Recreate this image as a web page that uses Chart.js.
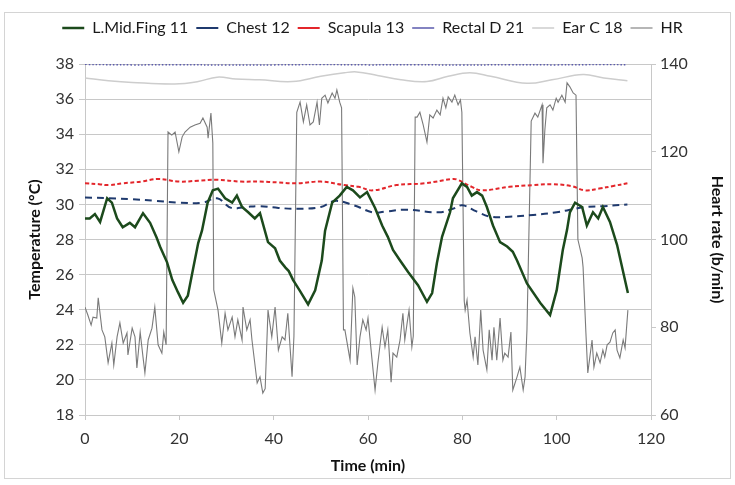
<!DOCTYPE html>
<html>
<head>
<meta charset="utf-8">
<script src="https://cdn.jsdelivr.net/npm/chart.js@4.4.1/dist/chart.umd.min.js"></script>
<style>
  html, body { margin: 0; padding: 0; background: #fff; }
  #wrap { width: 735px; height: 485px; }
</style>
</head>
<body>
<div id="wrap"><canvas id="myChart" width="735" height="485"></canvas></div>
<script>
// time (min) / value pairs
const finT = [0, 1, 2.1, 3.2, 4.7, 5.7, 6.8, 8, 9.5, 10.6, 12.3, 13.8, 15.2, 15.9, 17.4, 18.5, 19.7, 20.8, 21.8, 22.9, 24, 24.8, 26, 27.1, 28.2, 29.7, 31.2, 32.2, 33.3, 34.6, 36, 37.1, 38.8, 40.3, 41.3, 42.5, 43.2, 44.1, 45.5, 47.3, 48.8, 50.2, 50.9, 52.4, 54, 55.5, 56.8, 58.3, 59.8, 61.5, 63, 64.2, 65.3, 66.8, 68.5, 70.6, 72.5, 73.6, 74.6, 75.7, 77.4, 78, 79.9, 81, 82, 83.1, 84.2, 85.2, 86.5, 88, 89.5, 90.7, 91.6, 93.7, 96.5, 98.6, 100, 101.3, 102.2, 102.8, 103.9, 105.4, 106.4, 107.7, 108.8, 109.8, 111.3, 112.8, 115.1];
const finV = [29.2, 29.2, 29.45, 29.0, 30.35, 30.1, 29.2, 28.7, 28.95, 28.7, 29.5, 28.95, 28.1, 27.6, 26.7, 25.7, 25.0, 24.4, 24.8, 26.3, 27.8, 28.5, 30.1, 30.8, 30.9, 30.35, 30.1, 30.5, 29.85, 29.55, 29.2, 29.5, 27.85, 27.5, 26.8, 26.4, 26.2, 25.7, 25.1, 24.3, 25.1, 26.8, 28.5, 30.1, 30.5, 31.0, 30.8, 30.4, 30.7, 29.8, 28.8, 28.15, 27.4, 26.8, 26.15, 25.4, 24.45, 24.95, 26.65, 28.15, 29.55, 30.35, 31.2, 31.0, 30.5, 30.7, 30.5, 29.85, 28.8, 27.85, 27.6, 27.3, 26.8, 25.5, 24.4, 23.7, 25.1, 27.4, 28.55, 29.55, 30.1, 29.85, 28.8, 29.55, 29.2, 29.85, 29.0, 27.7, 24.95];

const chestT = [0, 5, 10, 15, 20, 25, 28, 31, 34, 37, 41, 45, 50, 53, 57, 61, 64, 68, 75, 78, 80, 83, 86, 90, 95, 100, 106, 110, 115];
const chestV = [30.4, 30.35, 30.3, 30.2, 30.1, 30.1, 30.35, 29.8, 29.85, 29.9, 29.8, 29.75, 29.85, 30.2, 29.95, 29.55, 29.6, 29.7, 29.55, 29.75, 29.95, 29.6, 29.3, 29.3, 29.4, 29.55, 29.85, 29.9, 30.0];

const scapT = [0, 3, 5, 8, 12, 15.5, 20, 24, 28, 33, 37, 41, 45, 50, 55, 58, 61, 66, 72, 78, 79, 82, 84, 90, 95, 99, 103, 106, 109, 112, 115];
const scapV = [31.2, 31.15, 31.1, 31.2, 31.3, 31.45, 31.3, 31.35, 31.4, 31.3, 31.3, 31.25, 31.2, 31.3, 31.1, 31.0, 30.8, 31.1, 31.2, 31.45, 31.4, 31.0, 30.8, 31.0, 31.1, 31.15, 31.05, 30.8, 30.9, 31.05, 31.2];

const rectT = [0, 10, 20, 30, 40, 50, 60, 70, 80, 90, 100, 110, 115];
const rectV = [37.98, 37.95, 37.96, 37.94, 37.95, 37.97, 37.95, 37.96, 37.94, 37.96, 37.95, 37.97, 37.96];

const earT = [0, 5, 10, 19, 24, 28, 32, 37, 44, 50, 55, 57.6, 62, 67, 72.5, 77, 81.6, 86, 93.7, 99, 105.6, 110, 115];
const earV = [37.2, 37.05, 36.95, 36.86, 37.0, 37.25, 37.15, 37.1, 37.0, 37.3, 37.5, 37.55, 37.35, 37.1, 37.0, 37.3, 37.5, 37.3, 36.9, 37.1, 37.4, 37.2, 37.05];

const hrT = [0, 0.6, 1.3, 1.7, 2.5, 2.8, 3.6, 4.2, 4.9, 5.7, 6.1, 6.8, 7.4, 8.1, 8.9, 9.1, 10, 10.6, 11, 11.7, 12.3, 12.7, 13.4, 14.2, 14.8, 15.5, 16.3, 16.7, 17.2,
  17.6, 18.4, 19.1, 19.9, 20.6, 21.2, 22.3, 23.3, 24.4, 25, 25.9, 26.1, 26.7, 27.1,
  27.3, 28.2, 29, 29.7, 30.3, 31.2, 31.8, 32.4, 33.3, 33.5, 34.3, 35, 35.4, 36.5, 37.1, 37.7, 38.2, 38.8, 39.6, 40.3, 41, 41.8, 42.4, 43, 43.9, 44.3,
  44.9, 45.6, 46.3, 47, 47.7, 48.4, 49.2, 49.7, 50.2, 50.9, 51.5, 52.4, 53, 53.4, 54, 54.4,
  54.8, 55.1, 56.2, 56.8, 57.2, 57.7, 58.3, 58.9, 59.6, 60, 60.8, 61.5, 62.1, 63, 63.6, 64.2, 64.9, 65.3, 66.1, 66.8, 67.4, 67.8, 68.3, 68.7, 69.3, 69.6,
  70.0, 70.4, 71, 71.7, 72.5, 73.1, 73.8, 74.6, 75.3, 75.9, 76.5, 77, 77.8, 78.4, 79.1, 79.6, 79.9,
  80.4, 80.6, 81, 81.6, 82.3, 82.7, 83.3, 83.9, 84.4, 85.2, 85.7, 86.3, 86.7, 87.3, 88, 88.6, 89, 89.7, 90.3, 90.7, 91.6, 92.2, 92.9, 93.3, 93.7,
  94.6, 95.4, 96, 96.9, 97.1, 97.5, 97.9, 98.6, 99.2, 99.9, 100.3, 101.1, 101.8, 102.2, 102.8, 103.5, 104.1,
  104.5, 105.4, 105.6, 106.2, 106.6, 107.5, 107.9, 108.5, 109.2, 109.8, 110.2, 110.7, 111.3, 111.9, 112.4, 112.8, 113.4, 114.1, 114.5, 115.1];
const hrV = [84.6, 82.8, 80.5, 82.3, 82.1, 86.7, 79.4, 77.8, 71.9, 76.4, 71.4, 77.8, 81, 76.4, 78.7, 73.7, 79.8, 77.8, 70.7, 78.9, 73.2, 69.6, 77.1, 79.8, 84.6, 76, 74.1, 78.9, 76,
  124.5, 123.8, 124.5, 120, 123.4, 124.5, 125.6, 126.1, 126.5, 127.7, 125.6, 123.1, 128.8, 122,
  88.5, 83.9, 76.4, 83.2, 79.4, 82.3, 77.8, 81.7, 77.1, 84.6, 79.4, 81.7, 77.1, 67.3, 68.7, 65, 66, 83.9, 77.8, 84.6, 74.8, 77.8, 77.1, 83.2, 68.7, 78,
  129, 131.3, 126.8, 130.7, 126.1, 126.8, 131.3, 126.1, 132.2, 132.9, 131.1, 133.4, 132.2, 134.1, 131.3, 130,
  79.4, 79.4, 72.5, 88.9, 86.9, 71.4, 77.8, 81.7, 79.4, 82.1, 73.2, 65.7, 71.9, 80, 75.5, 79.4, 67.5, 74.1, 73.2, 77.1, 83.2, 77.1, 81, 83.9, 75.5, 78,
  127.9, 127.9, 129, 126.1, 122.2, 128.4, 127.7, 129.5, 128.4, 132.2, 130, 132.5, 131.3, 132.9, 130.7, 131.8, 129,
  86, 83.9, 86.2, 78.7, 73.2, 77.8, 71.4, 83.9, 74.8, 70.3, 79.4, 72.5, 80, 72.5, 82.1, 72.5, 74.1, 73.2, 78.9, 65.7, 68.7, 70.9, 65.7, 68.7, 79.4,
  127, 128.8, 127.9, 130.7, 117.4, 125, 130, 130.7, 129.5, 132.2, 131.3, 132.9, 131.3, 135.7, 134.8, 133.4, 132.9,
  100, 95.8, 93.7, 78.7, 69.6, 77.1, 70.9, 74.1, 71.9, 74.8, 73.2, 76, 76.6, 78.7, 79.4, 74.8, 73, 77.1, 75.3, 83.9];

const tempTicks = [18, 20, 22, 24, 26, 28, 30, 32, 34, 36, 38];
const hrTicks = [60, 80, 100, 120, 140];

const pts = (t, v) => t.map((x, i) => ({x: x, y: v[i]}));
const FONT = 'Lato, "Open Sans", sans-serif';

const frame = {
  id: 'frame',
  beforeInit(chart) {
    const fit = chart.legend.fit;
    chart.legend.fit = function() { fit.call(this); this.height = 52; };
  },
  beforeDraw(chart) {
    const c = chart.ctx;
    c.save();
    c.fillStyle = '#fff';
    c.fillRect(0, 0, chart.width, chart.height);
    c.strokeStyle = '#d4d4d4';
    c.lineWidth = 1;
    c.strokeRect(4.5, 12.5, 726, 466);
    c.restore();
  }
};

const ctx = document.getElementById('myChart').getContext('2d');
new Chart(ctx, {
  type: 'line',
  data: {
    datasets: [
      { label: 'L.Mid.Fing 11', data: pts(finT, finV), borderColor: '#1c4a1c', backgroundColor: '#1c4a1c', borderWidth: 2.5, yAxisID: 'y' },
      { label: 'Chest 12', data: pts(chestT, chestV), borderColor: '#1f3a6e', backgroundColor: '#1f3a6e', borderWidth: 2, borderDash: [7, 5], tension: 0.4, yAxisID: 'y' },
      { label: 'Scapula 13', data: pts(scapT, scapV), borderColor: '#e3262b', backgroundColor: '#e3262b', borderWidth: 2, borderDash: [4, 2.5], tension: 0.4, yAxisID: 'y' },
      { label: 'Rectal D 21', data: pts(rectT, rectV), borderColor: '#5a5aac', backgroundColor: '#5a5aac', borderWidth: 1.5, borderDash: [1.5, 2], tension: 0.4, yAxisID: 'y' },
      { label: 'Ear C 18', data: pts(earT, earV), borderColor: '#cdcdcd', backgroundColor: '#cdcdcd', borderWidth: 1.5, tension: 0.4, yAxisID: 'y' },
      { label: 'HR', data: pts(hrT, hrV), borderColor: '#7a7a7a', backgroundColor: '#7a7a7a', borderWidth: 1.1, yAxisID: 'y2' }
    ]
  },
  options: {
    responsive: false,
    animation: false,
    events: [],
    elements: { point: { radius: 0, pointStyle: 'line' } },
    layout: { padding: { left: 14, right: 4, top: 12, bottom: 6 } },
    plugins: {
      tooltip: { enabled: false },
      legend: {
        display: true,
        position: 'top',
        labels: {
          usePointStyle: true,
          pointStyle: 'line',
          pointStyleWidth: 22,
          padding: 8,
          color: '#1a1a1a',
          font: { family: FONT, size: 16 }
        }
      }
    },
    scales: {
      x: {
        type: 'linear',
        min: 0,
        max: 120,
        afterFit: s => { s.height = 64; },
        ticks: { stepSize: 20, color: '#333', padding: 9, font: { family: FONT, size: 16 } },
        grid: { drawOnChartArea: false, drawTicks: true, tickLength: 5, color: '#c8c8c8' },
        border: { display: true, color: '#c8c8c8' },
        title: { display: true, text: 'Time (min)', color: '#111', padding: { top: 0, bottom: 3.5 }, font: { family: FONT, size: 16, weight: 'bold' } }
      },
      y: {
        position: 'left',
        min: 18,
        max: 38,
        afterFit: s => { s.width = 71; },
        afterBuildTicks: s => { s.ticks = tempTicks.map(v => ({value: v})); },
        ticks: { color: '#333', padding: 5, font: { family: FONT, size: 16 } },
        grid: { color: '#c8c8c8', tickLength: 6 },
        border: { display: true, color: '#c8c8c8' },
        title: { display: true, text: 'Temperature (°C)', color: '#111', padding: { top: 11, bottom: 0 }, font: { family: FONT, size: 16, weight: 'bold' } }
      },
      y2: {
        position: 'right',
        min: 60,
        max: 140,
        afterFit: s => { s.width = 80; },
        afterBuildTicks: s => { s.ticks = hrTicks.map(v => ({value: v})); },
        ticks: { color: '#333', padding: 4, font: { family: FONT, size: 16 } },
        grid: { drawOnChartArea: false, color: '#c8c8c8', tickLength: 5 },
        border: { display: true, color: '#c8c8c8' },
        title: { display: true, text: 'Heart rate (b/min)', color: '#111', padding: { top: 4, bottom: 0 }, font: { family: FONT, size: 16, weight: 'bold' } }
      }
    }
  },
  plugins: [frame]
});
</script>
</body>
</html>
